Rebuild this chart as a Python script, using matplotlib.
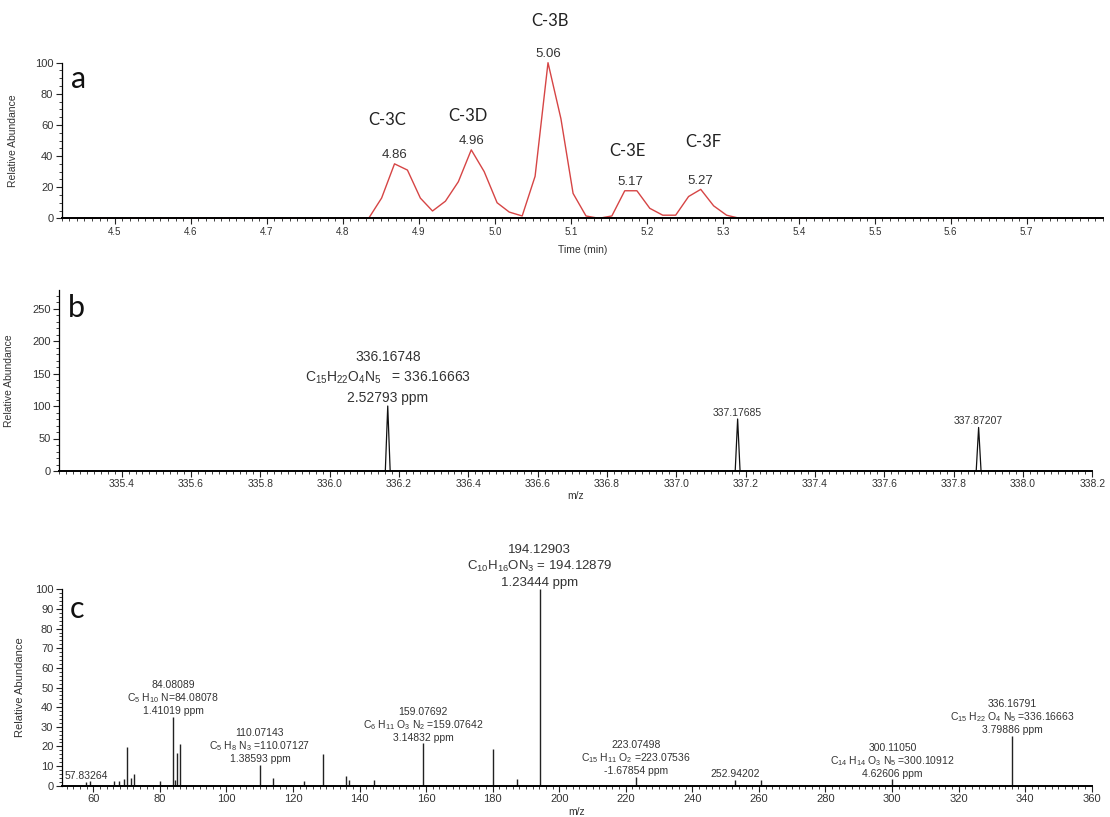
import numpy as np
import matplotlib
matplotlib.use('Agg')
import matplotlib.pyplot as plt
from matplotlib.ticker import MultipleLocator

plt.rcParams['font.family'] = ['Liberation Sans', 'DejaVu Sans']
plt.rcParams['mathtext.default'] = 'regular'

# (a) chromatogram
rt = [4.43, 4.834, 4.851, 4.868, 4.885, 4.902, 4.918, 4.935, 4.952, 4.969, 4.986,
      5.003, 5.019, 5.036, 5.053, 5.070, 5.087, 5.103, 5.120, 5.137, 5.154,
      5.171, 5.187, 5.204, 5.221, 5.238, 5.255, 5.271, 5.288, 5.305, 5.322, 5.80]
abund = [0, 0, 13, 35, 31, 13, 4.7, 11, 23.5, 44, 30,
         10, 4, 1.5, 27, 100, 64, 16, 1.5, 0, 1.5,
         17.7, 17.7, 6.4, 2, 2, 14, 18.6, 8, 2, 0, 0]
peak_rt = [4.868, 4.969, 5.070, 5.179, 5.271]
peak_top = [35, 44, 100, 17.7, 18.6]
peak_txt = ['4.86', '4.96', '5.06', '5.17', '5.27']
peak_names = ['C-3C', 'C-3D', 'C-3B', 'C-3E', 'C-3F']
name_rt = [4.858, 4.964, 5.073, 5.174, 5.275]
name_y = [63, 66, 127, 43, 49]

# (b) full scan around precursor
mz_b = [336.16748, 337.17685, 337.87207]
int_b = [100, 80, 67]
lab_b = ['336.16748\nC$_{15}$H$_{22}$O$_4$N$_5$   = 336.16663\n2.52793 ppm', '337.17685', '337.87207']

# (c) MS/MS spectrum
mz_c = [57.83, 59.0, 66.2, 67.7, 69.2, 70.07, 71.2, 72.2, 80.0, 84.08, 84.6, 85.1, 86.1,
        110.07, 114.1, 123.4, 129.1, 136.0, 136.9, 144.2, 159.08, 180.1, 187.2,
        194.13, 223.07, 252.94, 260.6, 300.11, 336.17]
int_c = [2, 2.5, 2.5, 2.2, 3.2, 19.6, 3.7, 5.8, 2.5, 35.1, 2.8, 16.8, 21.2,
         10.5, 3.7, 2.5, 16, 4.9, 2.9, 2.9, 21.6, 18.5, 3.4,
         100, 4.6, 2.9, 2.9, 3.2, 25.5]
lab_c_mz = [57.83, 84.08, 110.07, 159.08, 194.13, 223.07, 252.94, 300.11, 336.17]
lab_c_txt = ['57.83264',
             '84.08089\nC$_5$ H$_{10}$ N=84.08078\n1.41019 ppm',
             '110.07143\nC$_5$ H$_8$ N$_3$ =110.07127\n1.38593 ppm',
             '159.07692\nC$_6$ H$_{11}$ O$_3$ N$_2$ =159.07642\n3.14832 ppm',
             '194.12903\nC$_{10}$H$_{16}$ON$_3$ = 194.12879\n1.23444 ppm',
             '223.07498\nC$_{15}$ H$_{11}$ O$_2$ =223.07536\n-1.67854 ppm',
             '252.94202',
             '300.11050\nC$_{14}$ H$_{14}$ O$_3$ N$_5$ =300.10912\n4.62606 ppm',
             '336.16791\nC$_{15}$ H$_{22}$ O$_4$ N$_5$ =336.16663\n3.79886 ppm']

txt_col = '#333333'
W, H = 1110, 817
fig = plt.figure(figsize=(11.1, 8.17), dpi=100)


def style(ax, fsx, fsy):
    for s in ['top', 'right']:
        ax.spines[s].set_visible(False)
    ax.spines['bottom'].set_linewidth(1.4)
    ax.spines['left'].set_linewidth(0.9)
    ax.tick_params(which='major', direction='out', length=4, width=0.8,
                   colors='#222222', pad=2)
    ax.tick_params(axis='x', labelsize=fsx)
    ax.tick_params(axis='y', labelsize=fsy)
    ax.tick_params(which='minor', direction='out', length=2.2, width=0.6, colors='#222222')
    for lab in ax.get_xticklabels() + ax.get_yticklabels():
        lab.set_color(txt_col)


# ---- a ----
ax1 = fig.add_axes([61.7 / W, 1 - 218.3 / H, 1041 / W, 155.6 / H])
ax1.plot(rt, abund, color='#d64545', lw=1.0, clip_on=False)
ax1.set_xlim(4.43, 5.80)
ax1.set_ylim(0, 100)
ax1.set_xticks(np.round(np.arange(4.5, 5.75, 0.1), 1))
ax1.xaxis.set_minor_locator(MultipleLocator(0.01))
ax1.yaxis.set_major_locator(MultipleLocator(20))
ax1.yaxis.set_minor_locator(MultipleLocator(5))
style(ax1, 7, 8)
ax1.set_xlabel('Time (min)', fontsize=7.5, color=txt_col, labelpad=6)
ax1.set_ylabel('Relative Abundance', fontsize=7.5, color=txt_col)
ax1.yaxis.set_label_coords(-0.042, 0.5)
for x, y, t in zip(peak_rt, peak_top, peak_txt):
    ax1.annotate(t, (x, y), xytext=(0, 2), textcoords='offset points', ha='center',
                 va='bottom', fontsize=9.5, color=txt_col, annotation_clip=False)
for x, y, t in zip(name_rt, name_y, peak_names):
    ax1.text(x, y, t, ha='center', va='center', fontsize=12, family=['Lato', 'DejaVu Sans'],
             color='#222222', clip_on=False)
ax1.text(0.016, 0.895, 'a', transform=ax1.transAxes, ha='center', va='center',
         fontsize=22, family=['Lato', 'DejaVu Sans'], color='#111111')

# ---- b ----
ax2 = fig.add_axes([59.3 / W, 1 - 471 / H, 1033 / W, 180.7 / H])
hw = 0.007
for m, h in zip(mz_b, int_b):
    ax2.plot([m - hw, m, m + hw], [0, h, 0], color='#111111', lw=0.9)
ax2.set_xlim(335.22, 338.2)
ax2.set_ylim(0, 278)
ax2.set_xticks(np.round(np.arange(335.4, 338.21, 0.2), 1))
ax2.xaxis.set_minor_locator(MultipleLocator(0.02))
ax2.yaxis.set_major_locator(MultipleLocator(50))
ax2.yaxis.set_minor_locator(MultipleLocator(10))
style(ax2, 7.5, 8)
ax2.set_xlabel('m/z', fontsize=7.5, color=txt_col, labelpad=1)
ax2.set_ylabel('Relative Abundance', fontsize=7.5, color=txt_col)
ax2.yaxis.set_label_coords(-0.044, 0.5)
for i, (m, h, t) in enumerate(zip(mz_b, int_b, lab_b)):
    fs = 10 if i == 0 else 7.5
    ax2.annotate(t, (m, h), xytext=(0, 1), textcoords='offset points', ha='center',
                 va='bottom', fontsize=fs, color=txt_col, linespacing=1.45,
                 multialignment='center', annotation_clip=False)
ax2.text(0.017, 0.9, 'b', transform=ax2.transAxes, ha='center', va='center',
         fontsize=22, family=['Lato', 'DejaVu Sans'], color='#111111')

# ---- c ----
ax3 = fig.add_axes([61.7 / W, 1 - 785.7 / H, 1030 / W, 196.4 / H])
ax3.vlines(mz_c, 0, int_c, color='#222222', lw=1.0)
ax3.set_xlim(50.5, 360)
ax3.set_ylim(0, 100)
ax3.xaxis.set_major_locator(MultipleLocator(20))
ax3.xaxis.set_minor_locator(MultipleLocator(2))
ax3.yaxis.set_major_locator(MultipleLocator(10))
ax3.yaxis.set_minor_locator(MultipleLocator(2))
style(ax3, 8, 8)
ax3.set_xlabel('m/z', fontsize=7.5, color=txt_col, labelpad=2)
ax3.set_ylabel('Relative Abundance', fontsize=8, color=txt_col)
ax3.yaxis.set_label_coords(-0.0356, 0.5)
top_c = dict(zip(mz_c, int_c))
for m, t in zip(lab_c_mz, lab_c_txt):
    big = m == 194.13
    ax3.annotate(t, (m, top_c[m]), xytext=(0, 0.5), textcoords='offset points', ha='center',
                 va='bottom', fontsize=9.5 if big else 7.5, color=txt_col,
                 linespacing=1.3 if big else 1.12, multialignment='center',
                 annotation_clip=False)
ax3.text(0.015, 0.9, 'c', transform=ax3.transAxes, ha='center', va='center',
         fontsize=22, family=['Lato', 'DejaVu Sans'], color='#111111')

fig.savefig('out.png', dpi=100)
